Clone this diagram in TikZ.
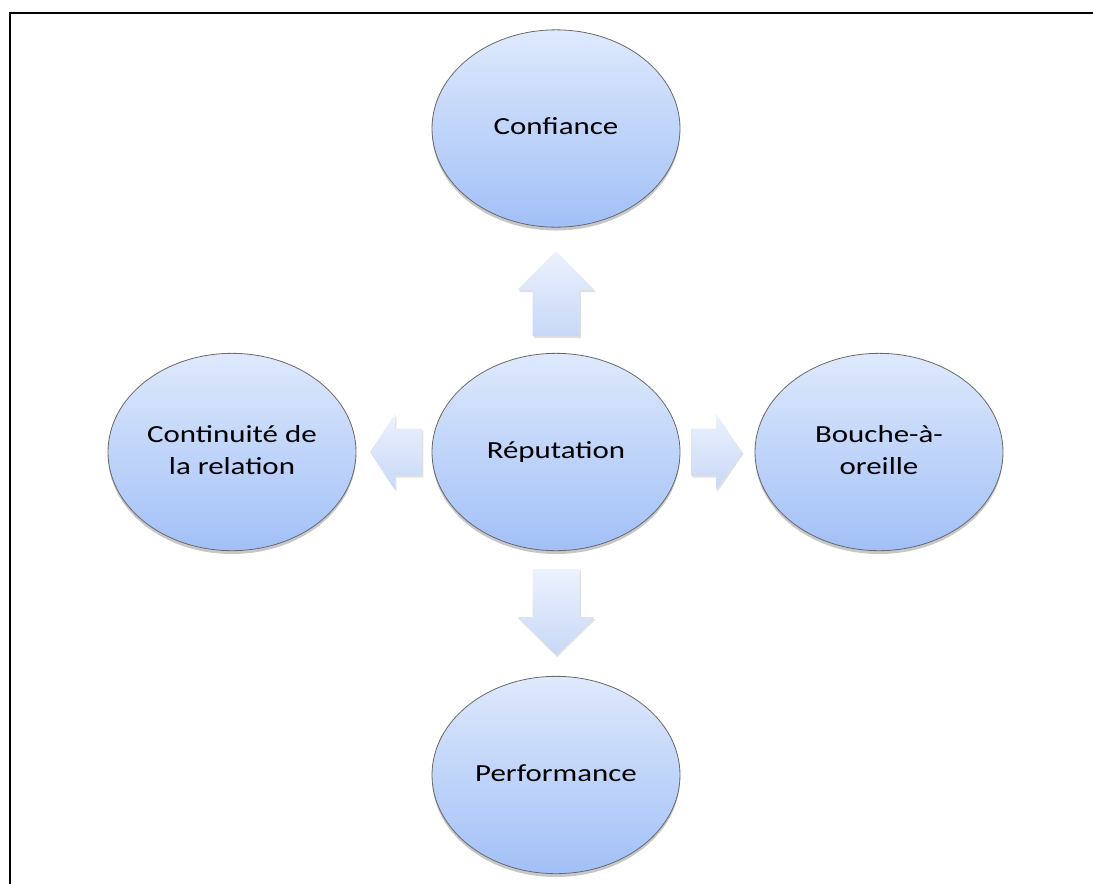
\documentclass[tikz,border=0pt]{standalone}
\usepackage{fontspec}
\setmainfont{Carlito}
\usepackage{graphicx}
\usetikzlibrary{shadows,shapes.geometric}
\definecolor{eltop}{RGB}{222,233,252}
\definecolor{elbot}{RGB}{162,192,247}
\definecolor{artop}{RGB}{236,242,253}
\definecolor{arbot}{RGB}{199,216,247}
\definecolor{elborder}{RGB}{105,105,105}
\newcommand{\widetext}[1]{\scalebox{1.26}[1]{\begin{tabular}{@{}c@{}}#1\end{tabular}}}
\tikzset{
  bubble/.style={ellipse, draw=elborder, line width=0.6pt,
    top color=eltop, bottom color=elbot,
    minimum width=186pt, minimum height=148pt, inner sep=0pt,
    font=\fontsize{18.4}{24}\selectfont,
    drop shadow={shadow xshift=0pt, shadow yshift=-2.5pt, opacity=0.22, fill=black}},
  blockarrow/.style={top color=artop, bottom color=arbot, draw=none,
    drop shadow={shadow xshift=1pt, shadow yshift=-1.5pt, opacity=0.12, fill=black}},
  frameline/.style={line width=1.5pt, black}
}
\begin{document}
\begin{tikzpicture}[x=0.75pt, y=-0.75pt]
\useasboundingbox (0,0) rectangle (1093,883);
\fill[white] (0,0) rectangle (1093,883);
\draw[frameline] (10,884) -- (10,13) -- (1094,13);

% nodes
\node[bubble] (rep) at (556,452) {\widetext{Réputation}};
\node[bubble] (conf) at (556,128.5) {\widetext{Confiance}};
\node[bubble] (perf) at (556,775) {\widetext{Performance}};
\node[bubble] (cont) at (232,452) {\widetext{Continuité de\\la relation}};
\node[bubble] (bouche) at (879,452) {\widetext{Bouche-à-\\oreille}};

% block arrows
% up
\path[blockarrow] (532.5,336) -- (532.5,290) -- (517.5,290) -- (556,251)
  -- (594.5,290) -- (579.5,290) -- (579.5,336) -- cycle;
% down
\path[blockarrow] (532.5,569) -- (579.5,569) -- (579.5,617) -- (594.5,617)
  -- (556,655) -- (517.5,617) -- (532.5,617) -- cycle;
% left
\path[blockarrow] (422,428.5) -- (395,428.5) -- (395,414) -- (370,452)
  -- (395,490) -- (395,475.5) -- (422,475.5) -- cycle;
% right
\path[blockarrow] (691,428.5) -- (716,428.5) -- (716,414) -- (742,452)
  -- (716,490) -- (716,475.5) -- (691,475.5) -- cycle;
\end{tikzpicture}
\end{document}
